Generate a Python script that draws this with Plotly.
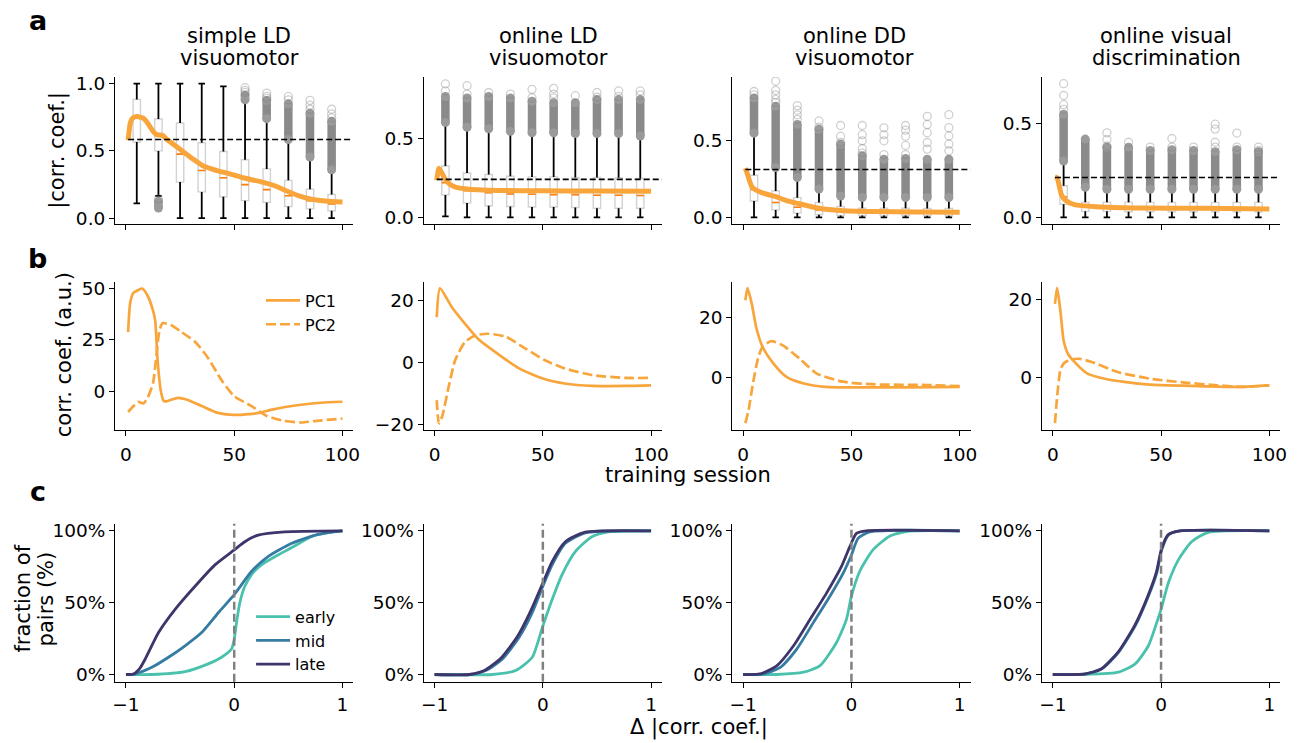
import plotly.graph_objects as go

# ---------------------------------------------------------------- data
TASK_TITLES = [["simple LD", "visuomotor"], ["online LD", "visuomotor"],
               ["online DD", "visuomotor"], ["online visual", "discrimination"]]

BOX_SESSIONS = [5, 15, 25, 35, 45, 55, 65, 75, 85, 95]

# |corr. coef.| box statistics per task (one list per task)
A_WHISHI = [[1.0, 1.0, 1.0, 1.0, 0.98, 0.875, 0.73, 0.573, 0.44, 0.342],
            [0.59, 0.56, 0.548, 0.537, 0.527, 0.527, 0.52, 0.52, 0.52, 0.506],
            [0.542, 0.317, 0.253, 0.178, 0.135, 0.122, 0.122, 0.122, 0.122, 0.122],
            [0.295, 0.154, 0.146, 0.146, 0.146, 0.146, 0.146, 0.146, 0.146, 0.146]]
A_Q3 = [[0.883, 0.737, 0.707, 0.561, 0.495, 0.434, 0.366, 0.281, 0.215, 0.176],
        [0.325, 0.281, 0.271, 0.26, 0.256, 0.256, 0.252, 0.252, 0.25, 0.246],
        [0.275, 0.172, 0.129, 0.097, 0.071, 0.06, 0.06, 0.06, 0.058, 0.058],
        [0.168, 0.081, 0.081, 0.081, 0.08, 0.08, 0.08, 0.08, 0.08, 0.08]]
A_MED = [[0.749, 0.622, 0.476, 0.354, 0.30, 0.249, 0.212, 0.166, 0.13, 0.105],
         [0.22, 0.169, 0.156, 0.148, 0.146, 0.144, 0.144, 0.14, 0.14, 0.138],
         [0.182, 0.097, 0.066, 0.049, 0.039, 0.034, 0.034, 0.034, 0.033, 0.033],
         [0.11, 0.054, 0.054, 0.052, 0.052, 0.05, 0.05, 0.05, 0.05, 0.05]]
A_Q1 = [[0.566, 0.50, 0.268, 0.195, 0.159, 0.13, 0.117, 0.086, 0.069, 0.054],
        [0.142, 0.09, 0.073, 0.069, 0.065, 0.065, 0.062, 0.058, 0.058, 0.058],
        [0.107, 0.049, 0.028, 0.017, 0.013, 0.012, 0.012, 0.012, 0.011, 0.011],
        [0.07, 0.032, 0.032, 0.03, 0.03, 0.03, 0.03, 0.03, 0.03, 0.03]]
A_WHISLO = [[0.11, 0.165, 0.0, 0.0, 0.0, 0.0, 0.0, 0.0, 0.0, 0.0],
            [0.006, 0.0, 0.0, 0.0, 0.0, 0.0, 0.0, 0.0, 0.0, 0.0],
            [0.0] * 10,
            [0.0] * 10]
# densely packed outliers: (lowest, highest) of each packed run, None if absent
A_FLIER_RUNS = [[None, (0.075, 0.125), None, None, None, (0.88, 0.915), (0.74, 0.875),
                 (0.585, 0.85), (0.455, 0.78), (0.36, 0.72)],
                [(0.60, 0.765), (0.57, 0.755), (0.56, 0.765), (0.545, 0.755), (0.535, 0.735),
                 (0.535, 0.725), (0.53, 0.725), (0.53, 0.745), (0.53, 0.745), (0.515, 0.745)],
                [(0.55, 0.78), (0.325, 0.725), (0.26, 0.607), (0.185, 0.575), (0.14, 0.478),
                 (0.13, 0.403), (0.13, 0.38), (0.13, 0.385), (0.13, 0.38), (0.13, 0.38)],
                [(0.30, 0.549), (0.16, 0.417), (0.15, 0.374), (0.15, 0.374), (0.15, 0.356),
                 (0.15, 0.36), (0.15, 0.356), (0.15, 0.35), (0.15, 0.36), (0.15, 0.35)]]
# isolated outliers
A_FLIERS = [[[], [0.145], [], [], [], [0.97, 0.95, 0.935], [0.93, 0.905, 0.89],
             [0.905, 0.88], [0.876, 0.84, 0.81], [0.81, 0.775, 0.745]],
            [[0.844, 0.80], [0.833, 0.78], [0.79], [0.78], [0.81, 0.756], [0.816, 0.78, 0.756],
             [0.77], [0.79, 0.76], [0.80, 0.765], [0.80, 0.775]],
            [[0.822, 0.80], [0.89, 0.83, 0.80, 0.77, 0.75], [0.73, 0.70, 0.67, 0.64],
             [0.63, 0.59], [0.60, 0.53, 0.49], [0.60, 0.54, 0.50, 0.45, 0.42],
             [0.585, 0.54, 0.50, 0.41], [0.60, 0.57, 0.53, 0.47, 0.41],
             [0.66, 0.607, 0.553, 0.489, 0.446], [0.671, 0.586, 0.532, 0.478, 0.435]],
            [[0.712, 0.649, 0.60, 0.575], [], [0.45, 0.415, 0.38], [0.40], [0.374],
             [0.42, 0.374], [0.374], [0.496, 0.47, 0.40, 0.374], [0.449, 0.374], [0.374, 0.356]]]
# session-wise mean |corr. coef.|
A_MEAN_X = [[1, 2, 3, 5, 8, 10, 12.5, 14, 17, 19, 25, 31, 36, 42, 48, 54, 63, 69, 77, 84, 92, 100],
            [1, 2, 3, 5, 7, 10, 15, 20, 30, 50, 75, 100],
            [1, 2, 4, 6, 10, 15, 20, 25, 35, 45, 60, 80, 100],
            [1, 2, 4, 6, 10, 20, 40, 70, 100]]
A_MEAN_Y = [[0.58, 0.707, 0.743, 0.756, 0.743, 0.707, 0.646, 0.622, 0.615, 0.585, 0.512, 0.439,
             0.385, 0.354, 0.329, 0.300, 0.268, 0.239, 0.183, 0.146, 0.127, 0.12],
            [0.235, 0.31, 0.29, 0.24, 0.21, 0.19, 0.18, 0.175, 0.17, 0.168, 0.167, 0.165],
            [0.322, 0.28, 0.2, 0.178, 0.155, 0.135, 0.11, 0.092, 0.06, 0.045, 0.038, 0.035, 0.034],
            [0.215, 0.21, 0.12, 0.09, 0.068, 0.057, 0.05, 0.048, 0.045]]
A_THRESH = [0.585, 0.24, 0.313, 0.212]

# PC loadings across training sessions
B_PC1_X = [[1, 2, 3.5, 5.5, 7.5, 10, 12.5, 13.5, 14.5, 16, 17.5, 19, 24, 28, 35, 42, 50, 57, 62, 68, 80, 90, 100],
           [1, 2.5, 8, 14, 20, 30, 39, 50, 60, 73, 88, 100],
           [1, 2, 4, 6, 9, 14, 20, 28, 38, 54, 77, 100],
           [1, 2, 3.5, 5, 7, 10, 16, 24, 33, 45, 61, 84, 100]]
B_PC1_Y = [[28.8, 43.3, 48, 49.2, 50, 46.5, 39.3, 34.5, 16.8, 0.8, -4.8, -4.8, -3.2, -4, -7.2, -10.4,
            -11.5, -11.1, -10.4, -8.8, -6.7, -5.6, -5.1],
           [14.7, 24, 17.9, 12.6, 7.7, 2.4, -1.9, -5.2, -6.8, -7.6, -7.6, -7.4],
           [25.7, 29.7, 24.4, 16.7, 10.1, 4.6, 0.2, -2.0, -3.1, -3.3, -3.3, -3.1],
           [19, 23.1, 17.3, 9.6, 6.2, 4.1, 1.1, -0.2, -1.0, -1.7, -2.0, -2.3, -1.9]]
B_PC2_X = [[1, 3.5, 5.5, 8, 10, 12.5, 14, 15.5, 17, 21, 25, 32, 38, 44, 50, 58, 65, 73, 81, 88, 100],
           [1, 2, 3.5, 6.5, 9.5, 14, 19, 25, 33, 42, 51, 60, 73, 88, 100],
           [1, 2.5, 4.5, 7, 9, 13, 18.5, 26, 34, 46, 61, 85, 100],
           [1, 2, 3.5, 5, 8, 12.5, 18, 30, 45, 61, 76, 88, 100]]
B_PC2_Y = [[-10.1, -7.2, -5.1, -5.9, -3.2, 4.0, 16.8, 29.7, 33.2, 32.1, 29.3, 24, 16.1, 5.6, -2.4,
            -7.2, -12, -14.4, -15.2, -14.4, -13.3],
           [-12.2, -19.7, -17.5, -7.9, 0.7, 6.6, 8.8, 9.3, 8.3, 4.5, 0.7, -1.9, -4.1, -5, -5],
           [-15.2, -10.8, -2.0, 6.8, 10.3, 12.1, 10.6, 6.3, 1.3, -1.4, -2.3, -2.5, -2.9],
           [-11.6, -4.8, 2.0, 3.7, 4.7, 4.9, 4.1, 1.5, -0.2, -1.2, -1.9, -2.3, -1.9]]
B_YTICKS = [[0, 25, 50], [-20, 0, 20], [0, 20], [0, 20]]

# cumulative fraction of pairs vs change in |corr. coef.|
STAGES = ["early", "mid", "late"]
C_EARLY_X = [[-1.0, -0.76, -0.455, -0.24, -0.117, -0.025, 0.0, 0.021, 0.052, 0.098, 0.159, 0.251, 0.405, 0.558, 0.711, 0.865, 1.0],
             [-1.0, -0.465, -0.251, -0.098, 0.0, 0.086, 0.177, 0.3, 0.453, 0.606, 1.0],
             [-1.0, -0.688, -0.443, -0.29, -0.138, -0.046, 0.0, 0.076, 0.199, 0.352, 0.535, 1.0],
             [-1.0, -0.7, -0.393, -0.239, -0.117, -0.04, 0.0, 0.067, 0.16, 0.282, 0.436, 1.0]]
C_EARLY_Y = [[0.0, 0.0, 0.02, 0.074, 0.12, 0.177, 0.246, 0.36, 0.5, 0.614, 0.694, 0.763, 0.832, 0.894, 0.959, 0.988, 1.0],
             [0.0, 0.0, 0.028, 0.12, 0.338, 0.522, 0.694, 0.855, 0.959, 0.993, 1.0],
             [0.0, 0.0, 0.016, 0.062, 0.223, 0.384, 0.545, 0.717, 0.867, 0.963, 0.998, 1.0],
             [0.0, 0.0, 0.016, 0.074, 0.2, 0.361, 0.453, 0.637, 0.798, 0.924, 0.989, 1.0]]
C_MID_X = [[-1.0, -0.914, -0.761, -0.607, -0.454, -0.301, -0.147, 0.0, 0.159, 0.312, 0.527, 0.773, 1.0],
           [-1.0, -0.679, -0.526, -0.373, -0.22, -0.098, 0.0, 0.086, 0.208, 0.391, 1.0],
           [-1.0, -0.81, -0.657, -0.505, -0.352, -0.199, -0.076, 0.0, 0.061, 0.168, 1.0],
           [-1.0, -0.7, -0.546, -0.393, -0.239, -0.117, -0.04, 0.006, 0.067, 0.16, 1.0]]
C_MID_Y = [[0.0, 0.005, 0.05, 0.12, 0.2, 0.292, 0.43, 0.556, 0.717, 0.821, 0.912, 0.975, 1.0],
           [0.0, 0.0, 0.028, 0.108, 0.257, 0.43, 0.614, 0.763, 0.913, 0.986, 1.0],
           [0.0, 0.005, 0.05, 0.177, 0.361, 0.545, 0.706, 0.832, 0.947, 0.993, 1.0],
           [0.0, 0.005, 0.039, 0.154, 0.338, 0.545, 0.706, 0.867, 0.97, 0.998, 1.0]]
C_LATE_X = [[-1.0, -0.93, -0.87, -0.822, -0.699, -0.546, -0.362, -0.178, 0.0, 0.098, 0.221, 0.466, 1.0],
            [-1.0, -0.679, -0.541, -0.388, -0.235, -0.113, 0.0, 0.086, 0.208, 0.391, 1.0],
            [-1.0, -0.841, -0.688, -0.535, -0.382, -0.229, -0.092, -0.015, 0.046, 0.138, 1.0],
            [-1.0, -0.7, -0.55, -0.397, -0.243, -0.12, -0.043, 0.003, 0.064, 0.16, 1.0]]
C_LATE_Y = [[0.0, 0.004, 0.045, 0.108, 0.292, 0.453, 0.614, 0.763, 0.867, 0.924, 0.97, 0.993, 1.0],
            [0.0, 0.0, 0.028, 0.113, 0.264, 0.441, 0.637, 0.786, 0.924, 0.991, 1.0],
            [0.0, 0.005, 0.062, 0.2, 0.384, 0.568, 0.752, 0.89, 0.982, 1.0, 1.0],
            [0.0, 0.005, 0.04, 0.156, 0.342, 0.55, 0.712, 0.87, 0.972, 0.998, 1.0]]

# ---------------------------------------------------------------- style
FONT = "DejaVu Sans"
W, H = 1304, 743
ORANGE = "#f8a53c"
MEDIAN = "#ff7f0e"
STAGE_COLORS = ["#49c1ad", "#357ba2", "#3e356b"]
TICK_SIZE = 18.5
LABEL_SIZE = 21

COLS_PX = [(113, 353), (424, 664), (735, 975), (1047, 1287)]
ROWS_PX = [(74, 223), (281, 431), (526, 686)]
A_YRANGE = [[-0.046, 1.049], [-0.044, 0.8875], [-0.045, 0.916], [-0.037, 0.747]]
B_YRANGE = [[-18.75, 53.4], [-21.8, 26.2], [-17.4, 31.9], [-13.3, 24.7]]
BOX_W = 3.4
CAP_HALF = 1.5
SMOOTH = dict(shape="spline", smoothing=0.6)


def ax_ids(r, c):
    i = r * 4 + c + 1
    return ("x", "y") if i == 1 else (f"x{i}", f"y{i}")


fig = go.Figure()

# ------------------------------------------------ row a: box plots + mean
for c in range(4):
    xa, ya = ax_ids(0, c)
    fig.add_trace(go.Box(
        x=BOX_SESSIONS, q1=A_Q1[c], median=A_MED[c], q3=A_Q3[c],
        lowerfence=A_Q1[c], upperfence=A_Q3[c], orientation="v",
        width=BOX_W, whiskerwidth=0, boxpoints=False,
        line=dict(color="#d2d2d2", width=1.4), fillcolor="rgba(255,255,255,0)",
        showlegend=False, hoverinfo="skip", xaxis=xa, yaxis=ya))

    wx, wy = [], []
    for p, lo, q1, q3, hi in zip(BOX_SESSIONS, A_WHISLO[c], A_Q1[c], A_Q3[c], A_WHISHI[c]):
        wx += [p, p, None, p, p, None, p - CAP_HALF, p + CAP_HALF, None, p - CAP_HALF, p + CAP_HALF, None]
        wy += [q3, hi, None, q1, lo, None, hi, hi, None, lo, lo, None]
    fig.add_trace(go.Scatter(x=wx, y=wy, mode="lines", line=dict(color="black", width=1.8),
                             showlegend=False, hoverinfo="skip", xaxis=xa, yaxis=ya))

    mx, my = [], []
    for p, m in zip(BOX_SESSIONS, A_MED[c]):
        mx += [p - BOX_W / 2, p + BOX_W / 2, None]
        my += [m, m, None]
    fig.add_trace(go.Scatter(x=mx, y=my, mode="lines", line=dict(color=MEDIAN, width=1.6),
                             showlegend=False, hoverinfo="skip", xaxis=xa, yaxis=ya))

    rx, ry = [], []
    for p, run in zip(BOX_SESSIONS, A_FLIER_RUNS[c]):
        if run is not None:
            rx += [p, p, None]
            ry += [run[0], run[1], None]
    fig.add_trace(go.Scatter(x=rx, y=ry, mode="lines+markers",
                             line=dict(color="#8a8a8a", width=8.5),
                             marker=dict(color="#9a9a9a", size=9),
                             showlegend=False, hoverinfo="skip", xaxis=xa, yaxis=ya))

    fx, fy = [], []
    for p, vals in zip(BOX_SESSIONS, A_FLIERS[c]):
        fx += [p] * len(vals)
        fy += vals
    fig.add_trace(go.Scatter(x=fx, y=fy, mode="markers",
                             marker=dict(symbol="circle-open", size=8,
                                         line=dict(color="rgba(120,120,120,0.35)", width=1.3),
                                         color="rgba(120,120,120,0.35)"),
                             showlegend=False, hoverinfo="skip", xaxis=xa, yaxis=ya))

    fig.add_trace(go.Scatter(x=A_MEAN_X[c], y=A_MEAN_Y[c], mode="lines",
                             line=dict(color=ORANGE, width=5, **SMOOTH),
                             showlegend=False, hoverinfo="skip", xaxis=xa, yaxis=ya))

    fig.add_shape(type="line", xref=xa, yref=ya, x0=1, x1=105, y0=A_THRESH[c], y1=A_THRESH[c],
                  line=dict(color="black", width=1.6, dash="6px,3px"), layer="above")

# ------------------------------------------------ row b: PC loadings
for c in range(4):
    xa, ya = ax_ids(1, c)
    fig.add_trace(go.Scatter(x=B_PC1_X[c], y=B_PC1_Y[c], mode="lines", name="PC1",
                             line=dict(color=ORANGE, width=2.7, **SMOOTH),
                             showlegend=(c == 0), legend="legend", xaxis=xa, yaxis=ya))
    fig.add_trace(go.Scatter(x=B_PC2_X[c], y=B_PC2_Y[c], mode="lines", name="PC2",
                             line=dict(color=ORANGE, width=2.7, dash="10px,4px", **SMOOTH),
                             showlegend=(c == 0), legend="legend", xaxis=xa, yaxis=ya))

# ------------------------------------------------ row c: cumulative distributions
C_X = [C_EARLY_X, C_MID_X, C_LATE_X]
C_Y = [C_EARLY_Y, C_MID_Y, C_LATE_Y]
for c in range(4):
    xa, ya = ax_ids(2, c)
    for s, name in enumerate(STAGES):
        fig.add_trace(go.Scatter(x=C_X[s][c], y=C_Y[s][c], mode="lines", name=name,
                                 line=dict(color=STAGE_COLORS[s], width=2.8, **SMOOTH),
                                 showlegend=(c == 0), legend="legend2", xaxis=xa, yaxis=ya))
    fig.add_shape(type="line", xref=xa, yref=f"{ya} domain", x0=0, x1=0, y0=0, y1=1,
                  line=dict(color="#808080", width=2.5, dash="8px,4px"), layer="above")

# ------------------------------------------------ axes
axis_style = dict(showline=True, linecolor="black", linewidth=1.3, ticks="outside",
                  ticklen=5, tickwidth=1.3, tickcolor="black", showgrid=False, zeroline=False,
                  tickfont=dict(family=FONT, size=TICK_SIZE, color="black"))
layout_axes = {}
for r in range(3):
    for c in range(4):
        i = r * 4 + c + 1
        xa, ya = ax_ids(r, c)
        xkey = "xaxis" if i == 1 else f"xaxis{i}"
        ykey = "yaxis" if i == 1 else f"yaxis{i}"
        xd = [COLS_PX[c][0] / W, COLS_PX[c][1] / W]
        yd = [1 - ROWS_PX[r][1] / H, 1 - ROWS_PX[r][0] / H]
        xax = dict(axis_style, domain=xd, anchor=ya, ticklabelstandoff=3 if r == 1 else 1)
        yax = dict(axis_style, domain=yd, anchor=xa)
        if r == 0:
            xax.update(range=[-5, 105], tickvals=[0, 50, 100], showticklabels=False)
            yax.update(range=A_YRANGE[c], tickvals=[0, 0.5, 1.0] if c == 0 else [0, 0.5],
                       tickformat=".1f")
        elif r == 1:
            xax.update(range=[-5, 105], tickvals=[0, 50, 100])
            yax.update(range=B_YRANGE[c], tickvals=B_YTICKS[c])
        else:
            xax.update(range=[-1.1, 1.1], tickvals=[-1, 0, 1])
            yax.update(range=[-0.05, 1.05], tickvals=[0, 0.5, 1.0], tickformat=".0%")
        layout_axes[xkey] = xax
        layout_axes[ykey] = yax

# ------------------------------------------------ text
ann = []


def text(x, y, s, size=LABEL_SIZE, angle=0, bold=False):
    ann.append(dict(x=x / W, y=1 - y / H, xref="paper", yref="paper", text=f"<b>{s}</b>" if bold else s,
                    showarrow=False, xanchor="center", yanchor="middle", textangle=angle,
                    font=dict(family=FONT, size=size, color="black")))


TITLE_X = [238, 550, 858, 1172]
for c in range(4):
    text(TITLE_X[c], 32, TASK_TITLES[c][0])
    text(TITLE_X[c], 55, TASK_TITLES[c][1])

text(35, 17, "a", size=27, bold=True)
text(35, 258, "b", size=27, bold=True)
text(35, 493, "c", size=27, bold=True)

text(55, 148, "|corr. coef.|", angle=-90)
text(61, 355, "corr. coef. (a.u.)", angle=-90)
text(20, 602, "fraction of", angle=-90)
text(43, 602, "pairs (%)", angle=-90)
text(690, 477, "training session")
text(701, 732, "Δ |corr. coef.|")

fig.update_layout(
    width=W, height=H, margin=dict(l=0, r=0, t=0, b=0),
    paper_bgcolor="white", plot_bgcolor="white",
    font=dict(family=FONT, color="black"),
    annotations=ann,
    legend=dict(x=260 / W, y=1 - 283 / H, xanchor="left", yanchor="top",
                bgcolor="rgba(0,0,0,0)", itemwidth=34, tracegroupgap=0,
                font=dict(family=FONT, size=16, color="black")),
    legend2=dict(x=250 / W, y=1 - 603 / H, xanchor="left", yanchor="top",
                 bgcolor="rgba(0,0,0,0)", itemwidth=34, tracegroupgap=0,
                 font=dict(family=FONT, size=16, color="black")),
    **layout_axes,
)

fig.write_html("out.html")
